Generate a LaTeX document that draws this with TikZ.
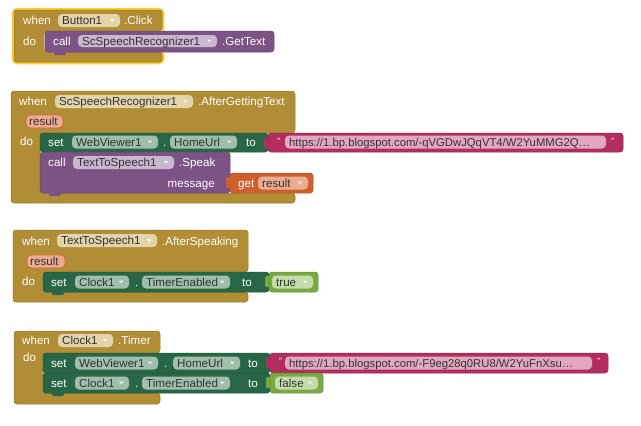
\documentclass[tikz,border=0pt]{standalone}
\usepackage{fontspec}
\setmainfont{Liberation Sans}
\definecolor{ctrl}{RGB}{177,142,53}
\definecolor{ctrlpill}{RGB}{226,211,170}
\definecolor{setg}{RGB}{40,102,70}
\definecolor{setpill}{RGB}{160,190,172}
\definecolor{meth}{RGB}{124,83,133}
\definecolor{methpill}{RGB}{202,183,207}
\definecolor{txtm}{RGB}{179,45,94}
\definecolor{txtpill}{RGB}{226,168,192}
\definecolor{varo}{RGB}{208,95,45}
\definecolor{varpill}{RGB}{236,172,146}
\definecolor{logic}{RGB}{119,171,65}
\definecolor{logicpill}{RGB}{196,220,172}
\definecolor{selyellow}{RGB}{252,204,51}
\tikzset{
 lbl/.style={text=white, anchor=west, inner sep=0pt, text height=8.3pt, text depth=0pt, font=\fontsize{11.6}{13}\selectfont},
 ptx/.style={lbl, text=black!80},
 blk/.style={fill=#1, draw=#1!85!black, line width=0.5pt, rounded corners=3pt},
}
% pill: x1,y1,x2,y2,color,text
\newcommand{\pill}[6]{%
 \fill[#5, rounded corners=4pt] (#1,#2) rectangle (#3,#4);
 \node[ptx] at ({#1+4},{(#2+#4)/2}) {#6};}
\newcommand{\ddpill}[6]{%
 \pill{#1}{#2}{#3}{#4}{#5}{#6}
 \fill[white, opacity=0.75] ({#3-10},{(#2+#4)/2-1.3}) -- ({#3-5.6},{(#2+#4)/2-1.3}) -- ({#3-7.8},{(#2+#4)/2+1.4}) -- cycle;}
% value tab on left edge: x, ytop, color
\newcommand{\vtab}[3]{\fill[#3, rounded corners=1.5pt] ({#1-4},{#2+4}) rectangle ({#1+1},{#2+15});}
% statement bottom bump: x, ybottom, color
\newcommand{\sbump}[3]{\fill[#3] ({#1+8},{#2-1}) -- ({#1+10},{#2+3}) -- ({#1+20},{#2+3}) -- ({#1+22},{#2-1}) -- cycle;}
\begin{document}
\begin{tikzpicture}[x=1pt,y=-1pt]
\useasboundingbox[fill=white] (0,0) rectangle (641,426);

% ===== Block 1 =====
\draw[selyellow, line width=2.5pt, rounded corners=4pt] (13,9) rectangle (163,63);
\path[blk=ctrl] (14,10) -- (162,10) -- (162,31) -- (44,31) -- (44,52) -- (162,52) -- (162,62) -- (14,62) -- cycle;
\node[lbl] at (23,20) {when};
\ddpill{58}{14}{120}{27}{ctrlpill}{Button1}
\node[lbl] at (124,20) {.Click};
\node[lbl] at (23,41) {do};
\path[blk=meth] (45,31) rectangle (274,52);
\sbump{45}{52}{meth}
\node[lbl] at (53,41) {call};
\ddpill{78}{35}{217}{47}{methpill}{ScSpeechRecognizer1}
\node[lbl] at (222,41) {.GetText};

% ===== Block 2 =====
\path[blk=ctrl] (11,91) -- (295,91) -- (295,133) -- (40,133) -- (40,193) -- (295,193) -- (295,203) -- (11,203) -- cycle;
\node[lbl] at (19,101) {when};
\ddpill{55}{95}{193}{108}{ctrlpill}{ScSpeechRecognizer1}
\node[lbl] at (198,101) {.AfterGettingText};
\fill[varpill, draw=varo, line width=0.8pt, rounded corners=4pt] (26,115) rectangle (63,128);
\node[ptx] at (29,121.5) {result};
\node[lbl] at (20,141) {do};
\path[blk=setg] (40,133) rectangle (268,152);
\node[lbl] at (48,142) {set};
\ddpill{72}{135.5}{158}{148.5}{setpill}{WebViewer1}
\node[lbl] at (163,142) {.};
\ddpill{170}{135.5}{237}{148.5}{setpill}{HomeUrl}
\node[lbl] at (246,142) {to};
\vtab{268}{133}{txtm}
\path[blk=txtm] (268,133) rectangle (623,152);
\node[lbl] at (277,140) {\fontsize{9}{9}\selectfont "};
\pill{285}{135.5}{606}{148.5}{txtpill}{\fontsize{11.3}{12}\selectfont https://1.bp.blogspot.com/-qVGDwJQqVT4/W2YuMMG2Q…}
\node[lbl] at (611,140) {\fontsize{9}{9}\selectfont "};
\path[blk=meth] (40,152) rectangle (230,193);
\sbump{40}{193}{meth}
\node[lbl] at (48,162) {call};
\ddpill{73}{156}{174}{169}{methpill}{TextToSpeech1}
\node[lbl] at (179,162) {.Speak};
\node[lbl, anchor=east] at (215,183) {message};
\vtab{230}{173}{varo}
\path[blk=varo] (230,173) rectangle (313,193);
\node[lbl] at (238,183) {get};
\ddpill{258}{176.5}{308}{189.5}{varpill}{result}

% ===== Block 3 =====
\path[blk=ctrl] (13,230) -- (248,230) -- (248,272) -- (43,272) -- (43,292) -- (248,292) -- (248,302) -- (13,302) -- cycle;
\node[lbl] at (22,241) {when};
\ddpill{57}{234}{157}{247}{ctrlpill}{TextToSpeech1}
\node[lbl] at (162,241) {.AfterSpeaking};
\fill[varpill, draw=varo, line width=0.8pt, rounded corners=4pt] (27,255) rectangle (65,268);
\node[ptx] at (30,261.5) {result};
\node[lbl] at (22,281) {do};
\path[blk=setg] (43,272) rectangle (269,292);
\sbump{43}{292}{setg}
\node[lbl] at (51,282) {set};
\ddpill{75}{275.5}{129}{288.5}{setpill}{Clock1}
\node[lbl] at (135,282) {.};
\ddpill{142}{275.5}{230}{288.5}{setpill}{TimerEnabled}
\node[lbl] at (242,282) {to};
\vtab{269}{272}{logic}
\path[blk=logic] (269,272) rectangle (318,292);
\ddpill{272}{275.5}{313}{288.5}{logicpill}{true}

% ===== Block 4 =====
\path[blk=ctrl] (14,331) -- (160,331) -- (160,353) -- (43,353) -- (43,393) -- (160,393) -- (160,404) -- (14,404) -- cycle;
\node[lbl] at (22,340) {when};
\ddpill{58}{334}{113}{347}{ctrlpill}{Clock1}
\node[lbl] at (118,340) {.Timer};
\node[lbl] at (23,357) {do};
\path[blk=setg] (43,353) rectangle (270,373);
\node[lbl] at (51,363) {set};
\ddpill{75}{356.5}{158}{369.5}{setpill}{WebViewer1}
\node[lbl] at (164,363) {.};
\ddpill{173}{356.5}{240}{369.5}{setpill}{HomeUrl}
\node[lbl] at (248,363) {to};
\vtab{270}{353}{txtm}
\path[blk=txtm] (270,353) rectangle (608,373);
\node[lbl] at (279,360) {\fontsize{9}{9}\selectfont "};
\pill{285}{356.5}{592}{369.5}{txtpill}{\fontsize{11.3}{12}\selectfont https://1.bp.blogspot.com/-F9eg28q0RU8/W2YuFnXsu…}
\node[lbl] at (597,360) {\fontsize{9}{9}\selectfont "};
\path[blk=setg] (43,373) rectangle (270,393);
\sbump{43}{393}{setg}
\node[lbl] at (51,383) {set};
\ddpill{75}{376.5}{129}{389.5}{setpill}{Clock1}
\node[lbl] at (135,383) {.};
\ddpill{142}{376.5}{230}{389.5}{setpill}{TimerEnabled}
\node[lbl] at (248,383) {to};
\vtab{270}{373}{logic}
\path[blk=logic] (270,373) rectangle (323,393);
\ddpill{275}{376.5}{318}{389.5}{logicpill}{false}
\end{tikzpicture}
\end{document}
